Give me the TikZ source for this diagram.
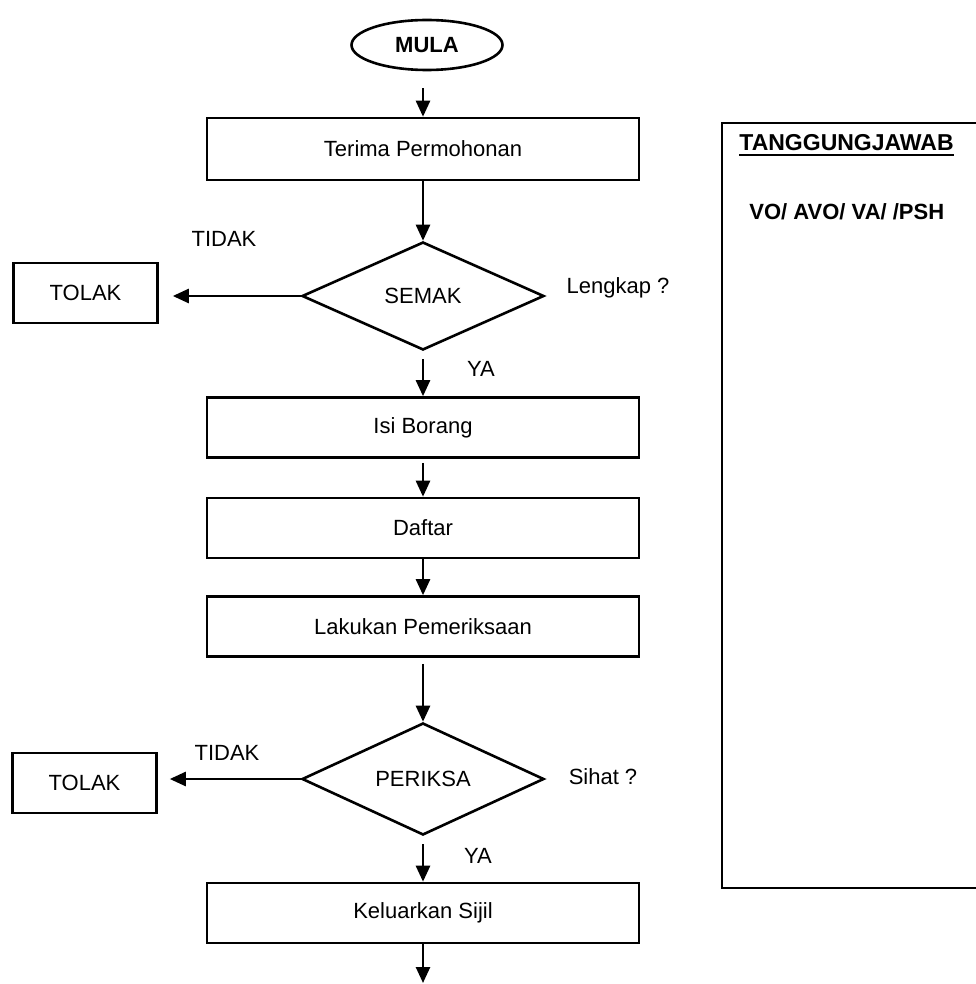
\documentclass[tikz,border=0pt]{standalone}
\usepackage{fontspec}
\setmainfont{Liberation Sans}
\usetikzlibrary{shapes.geometric,arrows.meta}
\begin{document}
\begin{tikzpicture}[x=0.5pt,y=-0.5pt,
  txt/.style={font=\fontsize{11}{13}\selectfont},
  procbox/.style={txt, draw, line width=1.3pt, rectangle, minimum width=216pt, minimum height=30pt, inner sep=0pt},
  tolakbox/.style={txt, draw, line width=1.3pt, rectangle, minimum width=72pt, minimum height=30pt, inner sep=0pt},
  decision/.style={txt, draw, line width=1.3pt, diamond, minimum width=121pt, inner sep=0pt},
  lbl/.style={txt, inner sep=0pt},
  flow/.style={line width=1.3pt, -{Triangle[length=8pt,width=7pt]}},
]
\useasboundingbox (0,0) rectangle (975,984);
% main flow
\node[txt, draw, ellipse, line width=1.3pt, minimum width=75.5pt, minimum height=25pt, inner sep=0pt, font=\fontsize{11}{13}\selectfont\bfseries] (mula) at (427,45) {MULA};
\node[procbox, minimum height=31pt] (terima) at (423,149) {Terima Permohonan};
\node[decision, minimum height=54pt] (semak) at (423,296) {SEMAK};
\node[tolakbox] (tolak1) at (85.5,293) {TOLAK};
\node[lbl] (tidak1) at (224,239) {TIDAK};
\node[lbl] (lengkap) at (618,288) {Lengkap ?};
\node[lbl] (ya1) at (481,369) {YA};
\node[procbox] (isi) at (423,427.5) {Isi Borang};
\node[procbox] (daftar) at (423,528) {Daftar};
\node[procbox] (lakukan) at (423,626.5) {Lakukan Pemeriksaan};
\node[decision, minimum height=56pt] (periksa) at (423,779) {PERIKSA};
\node[tolakbox] (tolak2) at (84.5,783) {TOLAK};
\node[lbl] (tidak2) at (227,753) {TIDAK};
\node[lbl] (sihat) at (603,777) {Sihat ?};
\node[lbl] (ya2) at (478,856) {YA};
\node[procbox] (keluar) at (423,913) {Keluarkan Sijil};
\coordinate (end) at (423,983);
% connectors
\draw[flow, shorten <=8.5pt] (terima.north |- mula.south) -- (terima.north);
\draw[flow] (terima.south) -- (semak.north);
\draw[flow, shorten >=7pt] (semak.west) -- (semak.west -| tolak1.east);
\draw[flow, shorten <=4pt] (semak.south) -- (isi.north);
\draw[flow, shorten <=2pt] (isi.south) -- (daftar.north);
\draw[flow] (daftar.south) -- (lakukan.north);
\draw[flow, shorten <=3pt] (lakukan.south) -- (periksa.north);
\draw[flow, shorten >=6pt] (periksa.west) -- (periksa.west -| tolak2.east);
\draw[flow, shorten <=4pt] (periksa.south) -- (keluar.north);
\draw[flow] (keluar.south) -- (end);
% responsibility panel
\node[draw, line width=1.3pt, rectangle, minimum width=139pt, minimum height=382.5pt, inner sep=0pt] (panel) at (861,505.5) {};
\node[lbl, anchor=west, font=\fontsize{11.5}{13}\selectfont\bfseries] (tj) at (739,143) {TANGGUNGJAWAB};
\draw[line width=1pt] ([yshift=-2pt]tj.base west) -- ([yshift=-2pt]tj.base east);
\node[lbl, anchor=west, font=\fontsize{11}{13}\selectfont\bfseries] (vo) at (749,212) {VO/ AVO/ VA/ /PSH};
\end{tikzpicture}
\end{document}
